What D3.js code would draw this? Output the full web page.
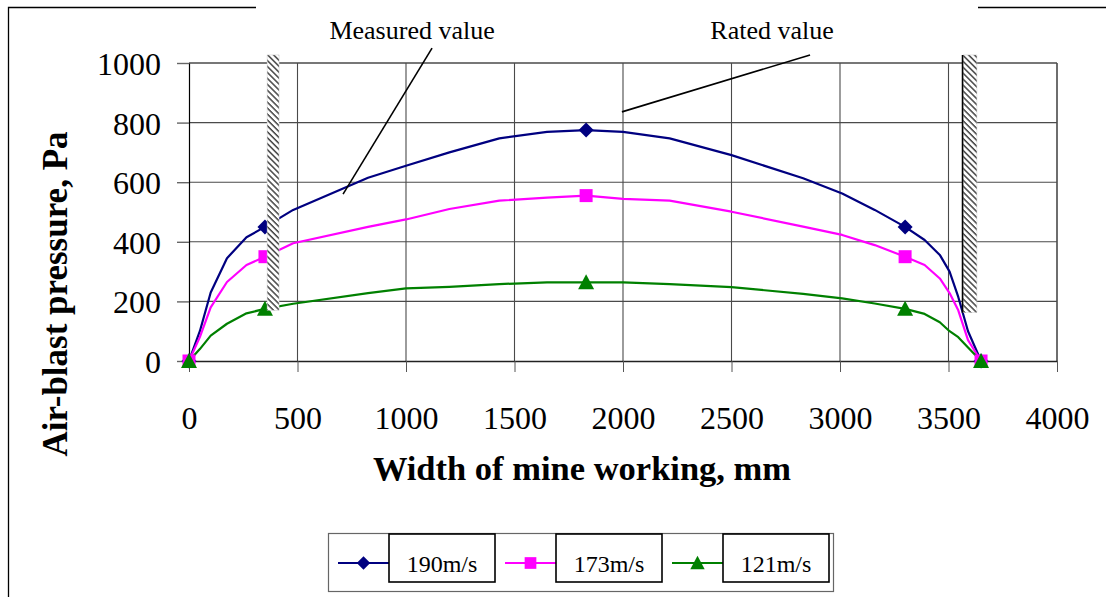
<!DOCTYPE html>
<html>
<head>
<meta charset="utf-8">
<script src="https://cdn.jsdelivr.net/npm/d3@7"></script>
<style>
  html, body { margin: 0; padding: 0; background: #fff; }
  svg { display: block; font-family: "Liberation Serif", "Times New Roman", serif; }
</style>
</head>
<body>
<svg id="chart" width="1106" height="597"></svg>
<script>
// ---- data -------------------------------------------------------------
// Position across the mine working (mm) where pressure was sampled
const widthMm = [0, 50, 100, 175, 265, 350, 480, 825, 1000, 1200, 1430, 1650, 1830,
                 2000, 2215, 2500, 2830, 3010, 3160, 3300, 3390, 3460, 3505, 3545, 3590, 3650];
// Air-blast pressure (Pa) for each air velocity
const p190 = [0, 100, 230, 345, 415, 450, 507, 615, 655, 700, 747, 769, 775,
              769, 747, 691, 613, 562, 507, 450, 406, 356, 300, 215, 100, 0];
const p173 = [0, 80, 180, 265, 322, 350, 395, 450, 475, 510, 538, 548, 555,
              544, 538, 501, 451, 423, 389, 350, 322, 277, 228, 170, 70, 0];
const p121 = [0, 40, 85, 125, 160, 175, 192, 228, 244, 249, 258, 264, 264,
              264, 258, 248, 225, 210, 193, 175, 158, 130, 100, 80, 45, 0];
// Positions carrying a marker (measured points)
const markerAt = [0, 350, 1830, 3300, 3650];
const seriesNames = ["190m/s", "173m/s", "121m/s"];
// Tick labels
const xTicks = [0, 500, 1000, 1500, 2000, 2500, 3000, 3500, 4000];
const yTicks = [0, 200, 400, 600, 800, 1000];
// Side walls of the working: [x from, x to, pressure level of lower end]
const wallLeft = [360, 415, 170];
const wallRight = [3567, 3631, 162];
const wallTop = 1027;

// ---- setup -------------------------------------------------------------
const FONT = "Liberation Serif, Times New Roman, serif";
const svg = d3.select("#chart");
const x = d3.scaleLinear().domain([0, 4000]).range([189, 1057]);
const y = d3.scaleLinear().domain([0, 1000]).range([361, 63]);

const series = [
  { name: seriesNames[0], values: p190, color: "#000080", shape: "diamond" },
  { name: seriesNames[1], values: p173, color: "#FF00FF", shape: "square" },
  { name: seriesNames[2], values: p121, color: "#008000", shape: "triangle" }
];

function markerPath(shape, k = 1) {
  if (shape === "diamond") return `M0,${-7.5 * k}L${7.5 * k},0L0,${7.5 * k}L${-7.5 * k},0Z`;
  if (shape === "square") return `M${-6.5 * k},${-6.5 * k}H${6.5 * k}V${6.5 * k}H${-6.5 * k}Z`;
  return `M0,${-8 * k}L${8 * k},${7 * k}H${-8 * k}Z`;
}

// outer frame fragments
svg.append("path")
  .attr("d", "M8.5,597V7.5H256")
  .attr("fill", "none").attr("stroke", "#000").attr("stroke-width", 1.3);
svg.append("path")
  .attr("d", "M978,7.5H1106")
  .attr("fill", "none").attr("stroke", "#000").attr("stroke-width", 1.3);

// hatch pattern for the walls
const defs = svg.append("defs");
const pat = defs.append("pattern")
  .attr("id", "hatch").attr("patternUnits", "userSpaceOnUse")
  .attr("width", 4.2).attr("height", 4.2)
  .attr("patternTransform", "rotate(45)");
pat.append("rect").attr("width", 4.2).attr("height", 4.2).attr("fill", "#fff");
pat.append("rect").attr("width", 4.2).attr("height", 1.5).attr("fill", "#444");

// ---- grid -------------------------------------------------------------
const grid = svg.append("g");
grid.selectAll("line.h").data(yTicks.filter(d => d > 0)).join("line")
  .attr("x1", x(0)).attr("x2", x(4000))
  .attr("y1", d => y(d)).attr("y2", d => y(d))
  .attr("stroke", "#4a4a4a").attr("stroke-width", d => d === 1000 ? 1.6 : 1.1);
grid.selectAll("line.v").data(xTicks.filter(d => d > 0)).join("line")
  .attr("x1", d => x(d)).attr("x2", d => x(d))
  .attr("y1", y(1000)).attr("y2", y(0))
  .attr("stroke", "#4a4a4a").attr("stroke-width", d => d === 4000 ? 1.6 : 1.1);

// ---- axes -------------------------------------------------------------
const fmt = d3.format("d");
const xAxis = svg.append("g")
  .attr("transform", `translate(0,${y(0)})`)
  .call(d3.axisBottom(x).tickValues(xTicks).tickFormat(fmt)
    .tickSize(11).tickSizeOuter(0).tickPadding(34))
  .attr("font-family", FONT).attr("font-size", 32);
xAxis.select(".domain").attr("stroke", "#222").attr("stroke-width", 1.6);
xAxis.selectAll(".tick line").attr("stroke", "#555");
xAxis.selectAll(".tick text").attr("fill", "#000");

const yAxis = svg.append("g")
  .attr("transform", `translate(${x(0)},0)`)
  .call(d3.axisLeft(y).tickValues(yTicks).tickFormat(fmt)
    .tickSize(12).tickSizeOuter(0).tickPadding(16))
  .attr("font-family", FONT).attr("font-size", 32);
yAxis.select(".domain").attr("stroke", "#000").attr("stroke-width", 1.2);
yAxis.selectAll(".tick line").attr("stroke", "#666").attr("stroke-width", 1.4);
yAxis.selectAll(".tick text").attr("fill", "#000").attr("dy", "0.36em");

// ---- series -------------------------------------------------------------
const line = d3.line()
  .x((d, i) => x(widthMm[i]))
  .y(d => y(d));

series.forEach(s => {
  svg.append("path")
    .datum(s.values)
    .attr("d", line)
    .attr("fill", "none")
    .attr("stroke", s.color)
    .attr("stroke-width", 2.2)
    .attr("stroke-linejoin", "round");
});
series.forEach(s => {
  const pts = markerAt.map(m => [m, s.values[widthMm.indexOf(m)]]);
  svg.append("g").selectAll("path").data(pts).join("path")
    .attr("transform", d => `translate(${x(d[0])},${y(d[1])})`)
    .attr("d", markerPath(s.shape))
    .attr("fill", s.color);
});

// ---- walls -------------------------------------------------------------
[wallLeft, wallRight].forEach((w, i) => {
  svg.append("rect")
    .attr("x", x(w[0])).attr("width", x(w[1]) - x(w[0]))
    .attr("y", y(wallTop)).attr("height", y(w[2]) - y(wallTop))
    .attr("fill", "url(#hatch)")
    .attr("stroke", "#ccc").attr("stroke-width", 0.5);
  if (i === 1) {
    svg.append("line")
      .attr("x1", x(w[0]) - 0.5).attr("x2", x(w[0]) - 0.5)
      .attr("y1", y(wallTop)).attr("y2", y(w[2]))
      .attr("stroke", "#000").attr("stroke-width", 1.6);
  }
});

// ---- annotations -------------------------------------------------------
const notes = [
  { text: "Measured value", tx: 1028, ty: 1080, from: [1120, 1050], to: [710, 560] },
  { text: "Rated value", tx: 2687, ty: 1080, from: [2862, 1027], to: [1995, 836] }
];
notes.forEach(n => {
  svg.append("text")
    .attr("x", x(n.tx)).attr("y", y(n.ty))
    .attr("text-anchor", "middle").attr("font-size", 26).text(n.text);
  svg.append("line")
    .attr("x1", x(n.from[0])).attr("y1", y(n.from[1]))
    .attr("x2", x(n.to[0])).attr("y2", y(n.to[1]))
    .attr("stroke", "#000").attr("stroke-width", 1.6);
});

// ---- axis titles -------------------------------------------------------
svg.append("text")
  .attr("transform", "translate(67,294) rotate(-90)")
  .attr("text-anchor", "middle").attr("font-size", 35).attr("font-weight", "bold")
  .text("Air-blast pressure, Pa");
svg.append("text")
  .attr("x", 582).attr("y", 480)
  .attr("text-anchor", "middle").attr("font-size", 34.5).attr("font-weight", "bold")
  .text("Width of mine working, mm");

// ---- legend -------------------------------------------------------------
const lg = svg.append("g");
lg.append("rect").attr("x", 328.5).attr("y", 533.5).attr("width", 505).attr("height", 58)
  .attr("fill", "#fff").attr("stroke", "#666").attr("stroke-width", 1.2);
series.forEach((s, i) => {
  const x0 = 338 + i * 167;
  const item = lg.append("g").attr("transform", `translate(${x0},0)`);
  item.append("line").attr("x1", 0).attr("x2", 51).attr("y1", 563).attr("y2", 563)
    .attr("stroke", s.color).attr("stroke-width", 2.2);
  item.append("path").attr("transform", "translate(25.5,563)")
    .attr("d", markerPath(s.shape, 0.9)).attr("fill", s.color);
  item.append("rect").attr("x", 51).attr("y", 534).attr("width", 106).attr("height", 48)
    .attr("fill", "#fff").attr("stroke", "#000").attr("stroke-width", 1.6);
  item.append("text").attr("x", 104).attr("y", 571.5)
    .attr("text-anchor", "middle").attr("font-size", 24).text(s.name);
});
</script>
</body>
</html>
